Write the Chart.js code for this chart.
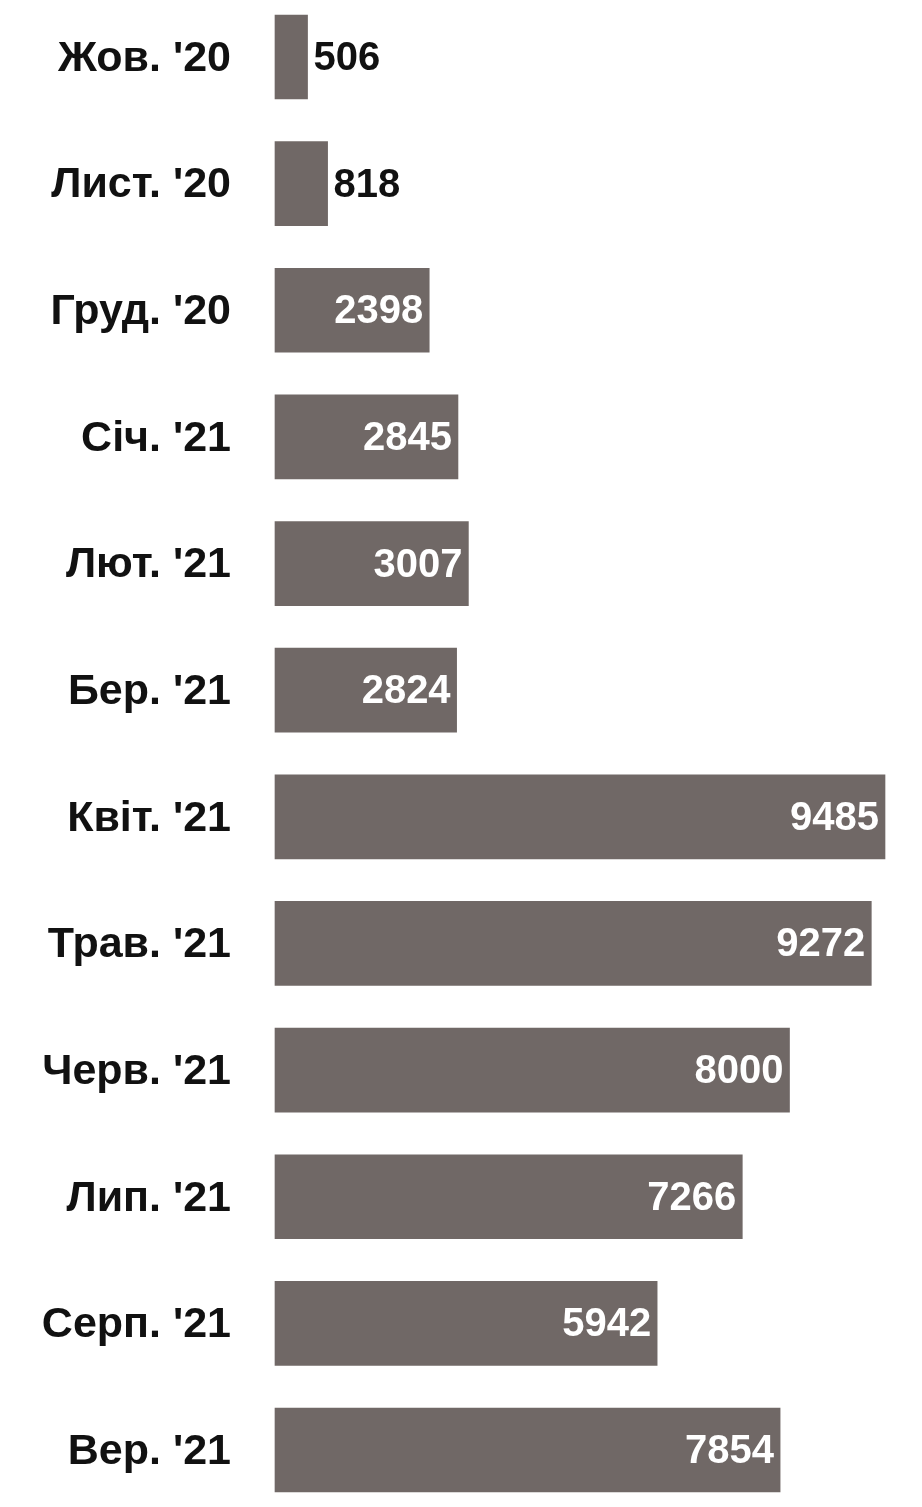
<!DOCTYPE html>
<html>
<head>
<meta charset="utf-8">
<script src="https://cdn.jsdelivr.net/npm/chart.js@4"></script>
<style>
    html, body { margin: 0; padding: 0; background: #fff; }
    #wrap { width: 922px; height: 1507px; position: relative; }
</style>
</head>
<body>
<div id="wrap"><canvas id="monthChart"></canvas></div>
<script>
const months = ["Жов. '20", "Лист. '20", "Груд. '20", "Січ. '21", "Лют. '21", "Бер. '21",
    "Квіт. '21", "Трав. '21", "Черв. '21", "Лип. '21", "Серп. '21", "Вер. '21"];
const counts = [506, 818, 2398, 2845, 3007, 2824, 9485, 9272, 8000, 7266, 5942, 7854];

const FONT = "'Liberation Sans', Arial, sans-serif";
const BAR_COLOR = '#706866';

// value labels: white inside the bar end, black outside for short bars
const valueLabels = {
    id: 'valueLabels',
    afterDatasetsDraw(chart) {
        const ctx = chart.ctx;
        const meta = chart.getDatasetMeta(0);
        ctx.save();
        ctx.font = 'bold 40px ' + FONT;
        ctx.textBaseline = 'middle';
        meta.data.forEach((bar, i) => {
            const text = String(counts[i]);
            const w = ctx.measureText(text).width;
            const barW = bar.x - bar.base;
            if (barW > w + 12) {
                ctx.fillStyle = '#fff';
                ctx.textAlign = 'right';
                ctx.fillText(text, bar.x - 6, bar.y + 2);
            } else {
                ctx.fillStyle = '#111';
                ctx.textAlign = 'left';
                ctx.fillText(text, bar.x + 6, bar.y + 2);
            }
        });
        ctx.restore();
    }
};

new Chart(document.getElementById('monthChart'), {
    type: 'bar',
    data: {
        labels: months,
        datasets: [{
            data: counts,
            backgroundColor: BAR_COLOR,
            borderWidth: 0,
            barThickness: 84,
            clip: false
        }]
    },
    options: {
        indexAxis: 'y',
        responsive: true,
        maintainAspectRatio: false,
        animation: false,
        layout: {
            padding: { top: 57, bottom: 57, left: 0, right: 37 }
        },
        plugins: {
            legend: { display: false },
            tooltip: { enabled: false }
        },
        scales: {
            x: {
                display: false,
                min: 0,
                max: 9485
            },
            y: {
                offset: false,
                grid: { display: false, drawTicks: false },
                border: { display: false },
                afterFit(scale) {
                    scale.width = 275;
                    // rows are placed by layout padding only
                    scale.paddingTop = 0;
                    scale.paddingBottom = 0;
                },
                ticks: {
                    autoSkip: false,
                    padding: 44,
                    labelOffset: 2,
                    color: '#111',
                    font: { family: FONT, size: 43, weight: 'bold' }
                }
            }
        }
    },
    plugins: [valueLabels]
});
</script>
</body>
</html>
